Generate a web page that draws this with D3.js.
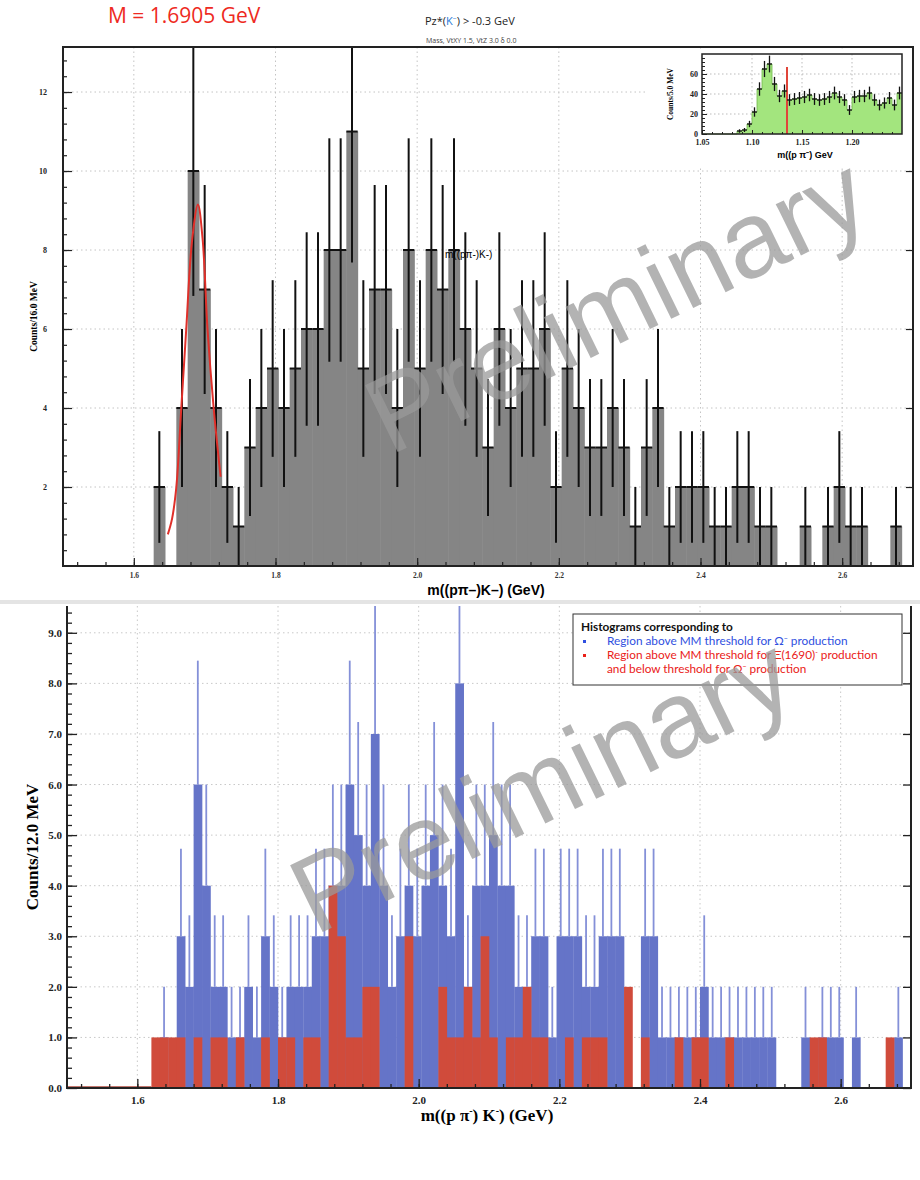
<!DOCTYPE html>
<html>
<head>
<meta charset="utf-8">
<title>m((p pi-)K-) invariant mass</title>
<script src="https://d3js.org/d3.v7.min.js"></script>
<style>
  body { margin: 0; background: #fff; }
  .serif { font-family: "Liberation Serif", "DejaVu Serif", serif; font-weight: bold; }
  .sans { font-family: "Liberation Sans", Arial, sans-serif; }
  .leg { font-family: Lato, "Open Sans", sans-serif; }
</style>
</head>
<body>
<svg id="chart" width="920" height="1180"></svg>
<script>
// ---------- data: top histogram, 16 MeV bins from 1.5 GeV ----------
const topStart = 1.5, topWidth = 0.016
const topCounts = [0,0,0,0,0,0,0,0, 2,0,4,10,7,4,2,1,3,4,5,4,
  5,6,6,8,8,11,5,7,7,4, 8,5,8,7,8,6,5,3,6,4,
  5,5,6,2,5,4,3,3,4,3, 1,3,4,1,2,2,2,1,1,2,
  2,1,1,0,0,1,0,1,2,1, 1,0,0,1,0]

// gaussian fit curve (GeV, counts)
const fitX = [1.648, 1.654, 1.660, 1.667, 1.674, 1.682, 1.6905, 1.697, 1.704, 1.7127, 1.7225]
const fitY = [0.8, 1.2, 2.0, 4.0, 6.0, 8.2, 9.15, 8.3, 6.0, 4.0, 2.26]

// inset: m(p pi-), 5 MeV bins from 1.05 GeV
const insetStart = 1.05, insetWidth = 0.005
const insetCounts = [0,0,0,0,0,0,0, 3,4,10,22,45,65,70,50,38,43,34,35,36,
  37,39,35,34,35,37,41,37,34,24, 37,38,38,41,34,29,31,36,29,41]
const insetCut = 1.135, insetCutTop = 67

// ---------- data: bottom histograms, 12 MeV bins from 1.5 GeV ----------
const botStart = 1.5, botWidth = 0.012
const blueCounts = [0,0,0,0,0,0,0,0,0,0,
  0,1,0,3,2,6,4,2,2,1,
  1,2,1,3,2,1,2,2,2,3,
  3,4,4,6,5,4,7,4,2,3,
  4,3,4,5,4,3,8,2,4,4,
  5,4,4,2,2,3,3,1,3,3,
  3,2,2,3,3,3,0,0,3,3,
  1,1,1,1,1,2,1,1,1,1,
  1,1,1,1,0,0,0,1,0,1,
  1,1,0,1,0,0,0,0,1,0]
const redCounts = [0,0,0,0,0,0,0,0,0,0,
  1,1,1,1,0,1,0,1,1,0,
  1,0,0,1,0,1,1,0,1,1,
  0,4,3,1,1,2,2,0,0,0,
  3,0,0,0,2,1,1,2,1,3,
  1,0,1,1,2,1,1,0,0,1,
  0,1,1,1,0,0,2,0,1,0,
  0,0,1,0,1,1,0,0,1,0,
  0,0,0,0,0,0,0,0,1,1,
  0,0,0,0,0,0,0,1,0,0]

const topXTicks = [1.6, 1.8, 2.0, 2.2, 2.4, 2.6]
const topXLabels = ["1.6", "1.8", "2.0", "2.2", "2.4", "2.6"]
const topYTicks = [2, 4, 6, 8, 10, 12]
const insetXTicks = [1.05, 1.10, 1.15, 1.20]
const insetYTicks = [0, 20, 40, 60]
const botYTicks = [0, 1, 2, 3, 4, 5, 6, 7, 8, 9]

const svg = d3.select("#chart")
const defs = svg.append("defs")

function range(a, b, step) {
  const out = []
  for (let v = a; v <= b + 1e-9; v += step) out.push(+v.toFixed(4))
  return out
}

// =========================== TOP PANEL ===========================
const T = {left: 63, right: 913, top: 47, bottom: 566}
const xT = d3.scaleLinear().domain([1.5, 2.7]).range([T.left, T.right])
const yT = d3.scaleLinear().domain([0, 13.14]).range([T.bottom, T.top])

defs.append("clipPath").attr("id", "clipTop").append("rect")
  .attr("x", T.left).attr("y", T.top).attr("width", T.right - T.left).attr("height", T.bottom - T.top)

const gT = svg.append("g")

// grid
gT.append("g").selectAll("line").data(topYTicks).join("line")
  .attr("x1", T.left).attr("x2", T.right)
  .attr("y1", d => yT(d)).attr("y2", d => yT(d))
  .attr("stroke", "#c4c4c4").attr("stroke-dasharray", "1.5,3")
gT.append("g").selectAll("line").data(topXTicks).join("line")
  .attr("y1", T.top).attr("y2", T.bottom)
  .attr("x1", d => xT(d)).attr("x2", d => xT(d))
  .attr("stroke", "#c4c4c4").attr("stroke-dasharray", "1.5,3")

const topBins = topCounts.map((n, i) => ({lo: topStart + i * topWidth, hi: topStart + (i + 1) * topWidth, n}))
  .filter(d => d.n > 0)

const plotT = gT.append("g").attr("clip-path", "url(#clipTop)")
plotT.selectAll("rect").data(topBins).join("rect")
  .attr("x", d => xT(d.lo)).attr("width", d => xT(d.hi) - xT(d.lo) + 0.5)
  .attr("y", d => yT(d.n)).attr("height", d => yT(0) - yT(d.n))
  .attr("fill", "#858585")
// step tops
plotT.append("g").selectAll("line").data(topBins).join("line")
  .attr("x1", d => xT(d.lo)).attr("x2", d => xT(d.hi))
  .attr("y1", d => yT(d.n)).attr("y2", d => yT(d.n))
  .attr("stroke", "#111").attr("stroke-width", 2)
// error bars
plotT.append("g").selectAll("line").data(topBins).join("line")
  .attr("x1", d => xT((d.lo + d.hi) / 2)).attr("x2", d => xT((d.lo + d.hi) / 2))
  .attr("y1", d => yT(d.n - Math.sqrt(d.n))).attr("y2", d => yT(d.n + Math.sqrt(d.n)))
  .attr("stroke", "#111").attr("stroke-width", 2)

// fit curve
const fitPts = fitX.map((x, i) => [x, fitY[i]])
plotT.append("path").datum(fitPts)
  .attr("d", d3.line().x(d => xT(d[0])).y(d => yT(d[1])).curve(d3.curveCatmullRom))
  .attr("fill", "none").attr("stroke", "#e0302a").attr("stroke-width", 2)

// axes
gT.append("g").attr("transform", `translate(0,${T.bottom})`)
  .call(d3.axisBottom(xT).tickValues(range(1.52, 2.68, 0.04)).tickSize(-4).tickFormat(""))
gT.append("g").attr("transform", `translate(0,${T.bottom})`)
  .call(d3.axisBottom(xT).tickValues(topXTicks).tickSize(-8).tickPadding(7)
    .tickFormat((d, i) => topXLabels[i]))
  .call(g => g.selectAll("text").attr("class", "serif").attr("font-size", 7.5).attr("fill", "#333"))
gT.append("g").attr("transform", `translate(${T.left},0)`)
  .call(d3.axisLeft(yT).tickValues(range(0.4, 13, 0.4)).tickSize(-4).tickFormat(""))
gT.append("g").attr("transform", `translate(${T.left},0)`)
  .call(d3.axisLeft(yT).tickValues(topYTicks).tickSize(-9).tickPadding(16))
  .call(g => g.selectAll("text").attr("class", "serif").attr("font-size", 8).attr("fill", "#222"))
gT.append("g").attr("transform", `translate(${T.right},0)`)
  .call(d3.axisRight(yT).tickValues(topYTicks).tickSize(-7).tickFormat(""))
gT.selectAll(".domain").remove()
gT.selectAll(".tick line").attr("stroke", "#222").attr("stroke-width", 1.2)
gT.append("rect").attr("x", T.left).attr("y", T.top)
  .attr("width", T.right - T.left).attr("height", T.bottom - T.top)
  .attr("fill", "none").attr("stroke", "#222").attr("stroke-width", 2)

// labels
gT.append("text").attr("class", "serif").attr("font-size", 9.5)
  .attr("transform", `translate(37,${(T.top + T.bottom) / 2 + 10}) rotate(-90)`)
  .attr("text-anchor", "middle").text("Counts/16.0 MeV")
gT.append("text").attr("class", "sans").attr("font-weight", "bold").attr("font-size", 14)
  .attr("x", 486).attr("y", 595).attr("text-anchor", "middle").text("m((pπ–)K–)  (GeV)")
gT.append("text").attr("class", "sans").attr("font-size", 10)
  .attr("x", 445).attr("y", 258).text("m((pπ-)K-)")

svg.append("text").attr("font-family", "'Open Sans', sans-serif").attr("font-size", 21)
  .attr("fill", "#ee2a22").attr("x", 108).attr("y", 23).text("M = 1.6905 GeV")
const hdr = svg.append("text").attr("font-family", "'Open Sans', sans-serif").attr("font-size", 11)
  .attr("x", 425).attr("y", 25).attr("fill", "#222")
hdr.append("tspan").text("Pz*(")
hdr.append("tspan").attr("fill", "#2a7ad8").text("K")
hdr.append("tspan").attr("fill", "#2a7ad8").attr("font-size", 7).attr("dy", -4).text("−")
hdr.append("tspan").attr("dy", 4).text(") > -0.3 GeV")
svg.append("text").attr("font-family", "'Open Sans', sans-serif").attr("font-size", 7)
  .attr("x", 426).attr("y", 43).attr("fill", "#444").text("Mass, VtXY 1.5, VtZ 3.0 δ 0.0")

// ---------- inset ----------
const I = {left: 702, right: 902, top: 54, bottom: 134}
const xI = d3.scaleLinear().domain([1.05, 1.25]).range([I.left, I.right])
const yI = d3.scaleLinear().domain([0, 80]).range([I.bottom, I.top])
const gI = svg.append("g")
gI.append("rect").attr("x", 646).attr("y", 49).attr("width", 266).attr("height", 118).attr("fill", "#fff")
gI.append("g").selectAll("line").data([20, 40, 60]).join("line")
  .attr("x1", I.left).attr("x2", I.right).attr("y1", d => yI(d)).attr("y2", d => yI(d))
  .attr("stroke", "#bbb").attr("stroke-dasharray", "1.5,2.5")
gI.append("g").selectAll("line").data([1.10, 1.15, 1.20]).join("line")
  .attr("y1", I.top).attr("y2", I.bottom).attr("x1", d => xI(d)).attr("x2", d => xI(d))
  .attr("stroke", "#bbb").attr("stroke-dasharray", "1.5,2.5")
const insetBins = insetCounts.map((n, i) => ({lo: insetStart + i * insetWidth, hi: insetStart + (i + 1) * insetWidth, n}))
const insetArea = []
insetBins.forEach(d => { insetArea.push([d.lo, d.n]); insetArea.push([d.hi, d.n]) })
gI.append("path").datum(insetArea)
  .attr("d", d3.area().x(d => xI(d[0])).y0(yI(0)).y1(d => yI(d[1])))
  .attr("fill", "#a3e57e")
gI.append("path").datum(insetArea)
  .attr("d", d3.line().x(d => xI(d[0])).y(d => yI(d[1])))
  .attr("fill", "none").attr("stroke", "#6fb84a").attr("stroke-width", 0.8)
gI.append("line").attr("x1", xI(insetCut)).attr("x2", xI(insetCut))
  .attr("y1", yI(0)).attr("y2", yI(insetCutTop)).attr("stroke", "#e0453a").attr("stroke-width", 2)
const insetPts = insetBins.filter(d => d.n > 0)
gI.append("g").selectAll("line").data(insetPts).join("line")
  .attr("x1", d => xI(d.lo)).attr("x2", d => xI(d.hi)).attr("y1", d => yI(d.n)).attr("y2", d => yI(d.n))
  .attr("stroke", "#111").attr("stroke-width", 1.3)
gI.append("g").selectAll("line").data(insetPts).join("line")
  .attr("x1", d => xI((d.lo + d.hi) / 2)).attr("x2", d => xI((d.lo + d.hi) / 2))
  .attr("y1", d => yI(d.n - Math.sqrt(d.n))).attr("y2", d => yI(d.n + Math.sqrt(d.n)))
  .attr("stroke", "#111").attr("stroke-width", 1.3)
gI.append("g").attr("transform", `translate(0,${I.bottom})`)
  .call(d3.axisBottom(xI).tickValues(range(1.06, 1.24, 0.01)).tickSize(-2).tickFormat(""))
gI.append("g").attr("transform", `translate(0,${I.bottom})`)
  .call(d3.axisBottom(xI).tickValues(insetXTicks).tickSize(-4).tickPadding(5).tickFormat(d3.format(".2f")))
  .call(g => g.selectAll("text").attr("class", "serif").attr("font-size", 8).attr("fill", "#222"))
gI.append("g").attr("transform", `translate(${I.left},0)`)
  .call(d3.axisLeft(yI).tickValues(range(4, 78, 4)).tickSize(-3).tickFormat(""))
gI.append("g").attr("transform", `translate(${I.left},0)`)
  .call(d3.axisLeft(yI).tickValues(insetYTicks).tickSize(-5).tickPadding(4))
  .call(g => g.selectAll("text").attr("class", "serif").attr("font-size", 8).attr("fill", "#222"))
gI.selectAll(".domain").remove()
gI.selectAll(".tick line").attr("stroke", "#222")
gI.append("rect").attr("x", I.left).attr("y", I.top).attr("width", I.right - I.left)
  .attr("height", I.bottom - I.top).attr("fill", "none").attr("stroke", "#222").attr("stroke-width", 1.5)
gI.append("text").attr("class", "serif").attr("font-size", 7.5)
  .attr("transform", `translate(673,${(I.top + I.bottom) / 2}) rotate(-90)`)
  .attr("text-anchor", "middle").text("Counts/5.0 MeV")
gI.append("text").attr("class", "sans").attr("font-weight", "bold").attr("font-size", 9)
  .attr("x", 805).attr("y", 158).attr("text-anchor", "middle").text("m((p π⁻) GeV")

// separator between the two pictures
svg.append("rect").attr("x", 0).attr("y", 600).attr("width", 920).attr("height", 4).attr("fill", "#e4e4e4")

// =========================== BOTTOM PANEL ===========================
const B = {left: 67, right: 911, top: 606, bottom: 1088}
const xB = d3.scaleLinear().domain([1.5, 2.7]).range([B.left, B.right])
const yB = d3.scaleLinear().domain([0, 9.53]).range([B.bottom, B.top])
defs.append("clipPath").attr("id", "clipBot").append("rect")
  .attr("x", B.left).attr("y", B.top).attr("width", B.right - B.left).attr("height", B.bottom - B.top)

const gB = svg.append("g")
gB.append("g").selectAll("line").data(botYTicks.slice(1)).join("line")
  .attr("x1", B.left).attr("x2", B.right).attr("y1", d => yB(d)).attr("y2", d => yB(d))
  .attr("stroke", "#c8c8c8").attr("stroke-dasharray", "1.5,3")
gB.append("g").selectAll("line").data(topXTicks).join("line")
  .attr("y1", B.top).attr("y2", B.bottom).attr("x1", d => xB(d)).attr("x2", d => xB(d))
  .attr("stroke", "#c8c8c8").attr("stroke-dasharray", "1.5,3")

const toBins = counts => counts.map((n, i) => ({lo: botStart + i * botWidth, hi: botStart + (i + 1) * botWidth, n}))
  .filter(d => d.n > 0)
const blueBins = toBins(blueCounts), redBins = toBins(redCounts)

const plotB = gB.append("g").attr("clip-path", "url(#clipBot)")
// red zero line before the first filled bin
plotB.append("line").attr("x1", xB(1.5)).attr("x2", xB(redBins[0].lo))
  .attr("y1", yB(0) - 1).attr("y2", yB(0) - 1).attr("stroke", "#b04a3e").attr("stroke-width", 1.5)
plotB.append("g").selectAll("rect").data(blueBins).join("rect")
  .attr("x", d => xB(d.lo)).attr("width", d => xB(d.hi) - xB(d.lo) + 0.3)
  .attr("y", d => yB(d.n)).attr("height", d => yB(0) - yB(d.n))
  .attr("fill", "#6574c8")
plotB.append("g").selectAll("line").data(blueBins).join("line")
  .attr("x1", d => xB((d.lo + d.hi) / 2)).attr("x2", d => xB((d.lo + d.hi) / 2))
  .attr("y1", d => yB(d.n)).attr("y2", d => yB(d.n + Math.sqrt(d.n)))
  .attr("stroke", "#8490d8").attr("stroke-width", 1.8)
plotB.append("g").selectAll("rect").data(redBins).join("rect")
  .attr("x", d => xB(d.lo)).attr("width", d => xB(d.hi) - xB(d.lo) + 0.3)
  .attr("y", d => yB(d.n)).attr("height", d => yB(0) - yB(d.n))
  .attr("fill", "#d04b3b")

gB.append("g").attr("transform", `translate(0,${B.bottom})`)
  .call(d3.axisBottom(xB).tickValues(range(1.52, 2.68, 0.04)).tickSize(-4).tickFormat(""))
gB.append("g").attr("transform", `translate(0,${B.bottom})`)
  .call(d3.axisBottom(xB).tickValues(topXTicks).tickSize(-9).tickPadding(8).tickFormat(d3.format(".1f")))
  .call(g => g.selectAll("text").attr("class", "serif").attr("font-size", 11).attr("fill", "#222"))
gB.append("g").attr("transform", `translate(${B.left},0)`)
  .call(d3.axisLeft(yB).tickValues(range(0.2, 9.4, 0.2)).tickSize(-5).tickFormat(""))
gB.append("g").attr("transform", `translate(${B.left},0)`)
  .call(d3.axisLeft(yB).tickValues(botYTicks).tickSize(-10).tickPadding(5).tickFormat(d3.format(".1f")))
  .call(g => g.selectAll("text").attr("class", "serif").attr("font-size", 11).attr("fill", "#222"))
gB.append("g").attr("transform", `translate(${B.right},0)`)
  .call(d3.axisRight(yB).tickValues(botYTicks).tickSize(-8).tickFormat(""))
gB.selectAll(".domain").remove()
gB.selectAll(".tick line").attr("stroke", "#222").attr("stroke-width", 1.3)
gB.append("path")
  .attr("d", `M${B.left},${B.top}V${B.bottom}H${B.right}V${B.top}`)
  .attr("fill", "none").attr("stroke", "#222").attr("stroke-width", 2)

gB.append("text").attr("class", "serif").attr("font-size", 17)
  .attr("transform", `translate(38,${(B.top + B.bottom) / 2}) rotate(-90)`)
  .attr("text-anchor", "middle").text("Counts/12.0 MeV")
const xl = gB.append("text").attr("class", "serif").attr("font-size", 17)
  .attr("x", 487).attr("y", 1121).attr("text-anchor", "middle")
xl.append("tspan").text("m((p π")
xl.append("tspan").attr("font-size", 10).attr("dy", -7).text("-")
xl.append("tspan").attr("dy", 7).text(") K")
xl.append("tspan").attr("font-size", 10).attr("dy", -7).text("-")
xl.append("tspan").attr("dy", 7).text(")  (GeV)")

// legend
const L = gB.append("g").attr("class", "leg")
L.append("rect").attr("x", 573).attr("y", 614).attr("width", 329).attr("height", 71)
  .attr("fill", "#fff").attr("stroke", "#333").attr("stroke-width", 1)
L.append("text").attr("x", 581).attr("y", 631).attr("font-size", 11.8).attr("font-weight", "bold")
  .attr("fill", "#111").text("Histograms corresponding to")
const legRows = [
  {y: 645, color: "#2f4fe0", bullet: true, text: ["Region above MM threshold for Ω", "−", " production"]},
  {y: 659, color: "#ea2018", bullet: true, text: ["Region above MM threshold for Ξ(1690)", "-", " production"]},
  {y: 673, color: "#ea2018", bullet: false, text: ["and below threshold for Ω", "−", " production"]}
]
legRows.forEach(r => {
  if (r.bullet) L.append("rect").attr("x", 583).attr("y", r.y - 5).attr("width", 3).attr("height", 3).attr("fill", r.color)
  const t = L.append("text").attr("x", 607).attr("y", r.y).attr("font-size", 11.8).attr("fill", r.color)
  t.append("tspan").text(r.text[0])
  t.append("tspan").attr("font-size", 7).attr("dy", -4).text(r.text[1])
  t.append("tspan").attr("dy", 4).text(r.text[2])
})

// =========================== WATERMARKS ===========================
const marks = [{x: 620, y: 312}, {x: 545, y: 792}]
svg.append("g").selectAll("text").data(marks).join("text")
  .attr("transform", d => `translate(${d.x},${d.y}) rotate(-26)`)
  .attr("text-anchor", "middle").attr("dominant-baseline", "middle")
  .attr("font-family", "'Liberation Sans', Arial, sans-serif").attr("font-size", 108)
  .attr("fill", "#9a9a9a").attr("opacity", 0.75)
  .text("Preliminary")
</script>
</body>
</html>
